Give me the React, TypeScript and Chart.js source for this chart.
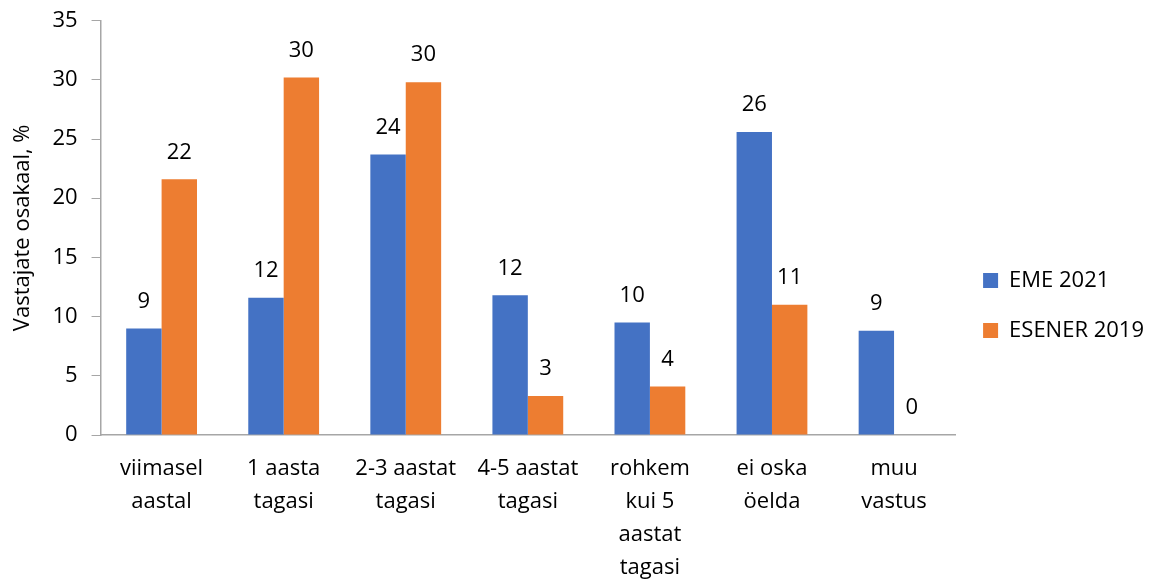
import React, { useEffect, useRef } from "react";
import { Chart, registerables } from "chart.js";

Chart.register(...registerables);

const categories: string[][] = [
  ["viimasel", "aastal"],
  ["1 aasta", "tagasi"],
  ["2-3 aastat", "tagasi"],
  ["4-5 aastat", "tagasi"],
  ["rohkem", "kui 5", "aastat", "tagasi"],
  ["ei oska", "öelda"],
  ["muu", "vastus"],
];
const eme2021 = [9.0, 11.6, 23.7, 11.8, 9.5, 25.6, 8.8];
const esener2019 = [21.6, 30.2, 29.8, 3.3, 4.1, 11.0, 0];
const seriesNames = ["EME 2021", "ESENER 2019"];
const yTitle = "Vastajate osakaal, %";

const FONT = "'Open Sans', sans-serif";
const FS = 22;

const labelPlugin = {
  id: "barLabels",
  afterDatasetsDraw(chart: any) {
    const ctx = chart.ctx;
    ctx.save();
    ctx.font = `${FS}px ${FONT}`;
    ctx.fillStyle = "#000";
    ctx.textAlign = "center";
    ctx.textBaseline = "middle";
    chart.data.datasets.forEach((ds: any, i: number) => {
      const meta = chart.getDatasetMeta(i);
      meta.data.forEach((bar: any, j: number) => {
        const v = ds.data[j];
        ctx.fillText(String(Math.round(v)), bar.x, bar.y - 27);
      });
    });
    ctx.restore();
  },
};

export default function App() {
  const ref = useRef<HTMLCanvasElement>(null);
  useEffect(() => {
    document.body.style.margin = "0";
    const chart = new Chart(ref.current!, {
      type: "bar",
      data: {
        labels: categories,
        datasets: [
          { label: seriesNames[0], data: eme2021, backgroundColor: "#4472C4" },
          { label: seriesNames[1], data: esener2019, backgroundColor: "#ED7D31" },
        ],
      },
      options: {
        animation: false,
        responsive: false,
        layout: { padding: { top: 10, right: 4, left: 10, bottom: -22 } },
        datasets: { bar: { categoryPercentage: 0.58, barPercentage: 1 } },
        plugins: {
          tooltip: { enabled: false },
          legend: {
            position: "right",
            labels: {
              font: { family: FONT, size: FS },
              color: "#000",
              boxWidth: 15,
              boxHeight: 15,
              padding: 28,
            },
          },
        },
        scales: {
          x: {
            grid: { display: false, drawTicks: false },
            border: { display: true, color: "#a6a6a6", width: 1.5 },
            ticks: {
              font: { family: FONT, size: FS, lineHeight: 1.5 },
              color: "#000",
              maxRotation: 0,
              autoSkip: false,
              padding: 17,
            },
          },
          y: {
            min: 0,
            max: 35,
            grid: {
              drawOnChartArea: false,
              drawTicks: true,
              tickLength: 9,
              color: "#a6a6a6",
            },
            border: { display: true, color: "#a6a6a6", width: 1.5 },
            ticks: {
              stepSize: 5,
              font: { family: FONT, size: FS, lineHeight: 0.6 },
              color: "#000",
              padding: 14,
            },
            title: {
              display: true,
              text: yTitle,
              font: { family: FONT, size: FS },
              color: "#000",
              padding: { top: 0, bottom: 2 },
            },
          },
        },
      },
      plugins: [labelPlugin],
    });
    return () => chart.destroy();
  }, []);
  return <canvas ref={ref} width={1158} height={579} style={{ display: "block" }} />;
}
